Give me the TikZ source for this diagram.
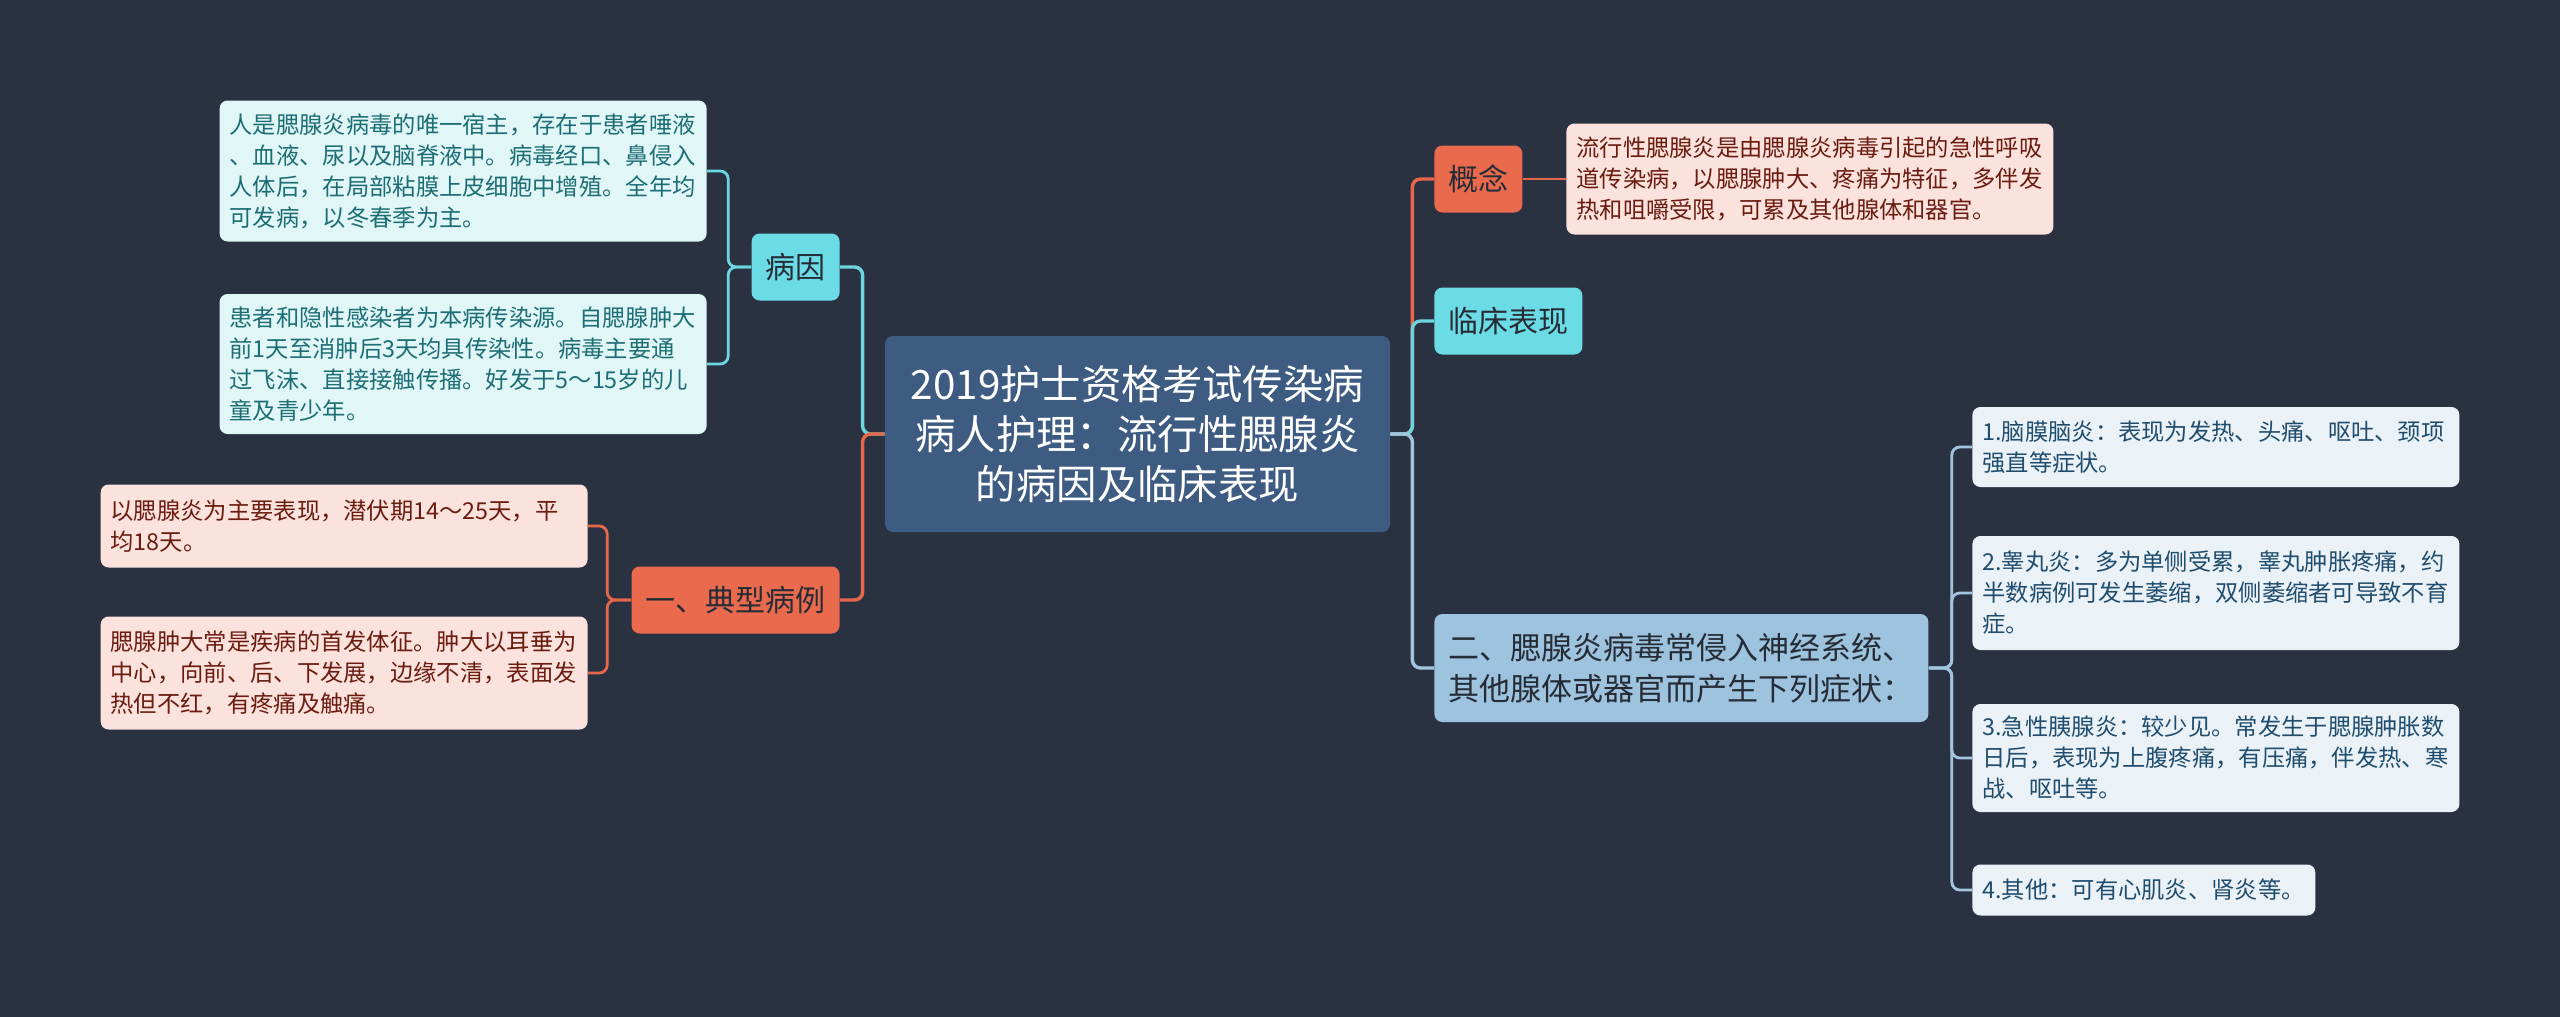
\documentclass[tikz,border=0pt]{standalone}
\usepackage{fontspec}
\setmainfont{Noto Sans CJK SC}

\definecolor{bg}{HTML}{2A3242}
\definecolor{rootfill}{HTML}{3E5B81}
\definecolor{cyanfill}{HTML}{6BDCE5}
\definecolor{orangefill}{HTML}{EA6A4E}
\definecolor{bluefill}{HTML}{9DC3DF}
\definecolor{cyanleaf}{HTML}{E0F6F7}
\definecolor{cyantext}{HTML}{1D6E74}
\definecolor{pinkleaf}{HTML}{FCE2DC}
\definecolor{pinktext}{HTML}{6A1C10}
\definecolor{blueleaf}{HTML}{EAF2F8}
\definecolor{bluetext}{HTML}{204D6D}
\definecolor{topictext}{HTML}{262C36}
\definecolor{cyanline}{HTML}{6BD6E0}
\definecolor{orangeline}{HTML}{E8674B}
\definecolor{blueline}{HTML}{A3C6E0}

\begin{document}
\begin{tikzpicture}[x=.5pt,y=-.5pt,
  root/.style={fill=rootfill,text=white,rounded corners=4pt,minimum width=252.5pt,minimum height=98pt,align=center,font=\fontsize{20.2}{25}\selectfont},
  topic/.style={rounded corners=4pt,minimum height=33.5pt,inner xsep=7pt,text=topictext,font=\fontsize{15}{18}\selectfont},
  leaf/.style={rounded corners=4pt,text width=233.5pt,inner xsep=5pt,inner ysep=2pt,align=left,font=\fontsize{11.65}{15.5}\selectfont},
  trunk/.style={line width=1.7pt,rounded corners=4pt},
  twig/.style={line width=1.4pt,rounded corners=4pt}]

\useasboundingbox (0,0) rectangle (2560,1017);
\fill[bg] (0,0) rectangle (2560,1017);

\node (root) at (1137.5,434) [root] {2019护士资格考试传染病\\病人护理：流行性腮腺炎\\的病因及临床表现};

\node (cause) at (840,267) [topic,anchor=east,fill=cyanfill] {病因};
\node (case) at (840,600) [topic,anchor=east,fill=orangefill] {一、典型病例};
\node (concept) at (1434,179) [topic,anchor=west,fill=orangefill] {概念};
\node (clinic) at (1434,321) [topic,anchor=west,fill=cyanfill] {临床表现};
\node (spread) at (1434,668) [topic,anchor=west,fill=bluefill,text width=233pt,align=left,minimum height=54pt,font=\fontsize{15.5}{20.5}\selectfont] {二、腮腺炎病毒常侵入神经系统、\\其他腺体或器官而产生下列症状：};

\node (causeA) at (707,171) [leaf,anchor=east,fill=cyanleaf,text=cyantext,minimum height=70.5pt] {人是腮腺炎病毒的唯一宿主，存在于患者唾液\\、血液、尿以及脑脊液中。病毒经口、鼻侵入\\人体后，在局部粘膜上皮细胞中增殖。全年均\\可发病，以冬春季为主。};
\node (causeB) at (707,364) [leaf,anchor=east,fill=cyanleaf,text=cyantext,minimum height=70pt] {患者和隐性感染者为本病传染源。自腮腺肿大\\前1天至消肿后3天均具传染性。病毒主要通\\过飞沫、直接接触传播。好发于5～15岁的儿\\童及青少年。};

\node (caseA) at (588,526) [leaf,anchor=east,fill=pinkleaf,text=pinktext,minimum height=41.5pt] {以腮腺炎为主要表现，潜伏期14～25天，平\\均18天。};
\node (caseB) at (588,673) [leaf,anchor=east,fill=pinkleaf,text=pinktext,minimum height=56.5pt] {腮腺肿大常是疾病的首发体征。肿大以耳垂为\\中心，向前、后、下发展，边缘不清，表面发\\热但不红，有疼痛及触痛。};

\node (conceptA) at (1566,179) [leaf,anchor=west,fill=pinkleaf,text=pinktext,minimum height=55.5pt] {流行性腮腺炎是由腮腺炎病毒引起的急性呼吸\\道传染病，以腮腺肿大、疼痛为特征，多伴发\\热和咀嚼受限，可累及其他腺体和器官。};

\node (spreadA) at (1972,447) [leaf,anchor=west,fill=blueleaf,text=bluetext,minimum height=40pt] {1.脑膜脑炎：表现为发热、头痛、呕吐、颈项\\强直等症状。};
\node (spreadB) at (1972,593) [leaf,anchor=west,fill=blueleaf,text=bluetext,minimum height=57pt] {2.睾丸炎：多为单侧受累，睾丸肿胀疼痛，约\\半数病例可发生萎缩，双侧萎缩者可导致不育\\症。};
\node (spreadC) at (1972,758) [leaf,anchor=west,fill=blueleaf,text=bluetext,minimum height=54pt] {3.急性胰腺炎：较少见。常发生于腮腺肿胀数\\日后，表现为上腹疼痛，有压痛，伴发热、寒\\战、呕吐等。};
\node (spreadD) at (1972,890) [leaf,anchor=west,fill=blueleaf,text=bluetext,text width=161.5pt,minimum height=25.5pt] {4.其他：可有心肌炎、肾炎等。};

\draw[trunk,cyanline] (root.west) -- ++(-22,0) |- (cause.east);
\draw[trunk,orangeline] (root.west) -- ++(-22,0) |- (case.east);
\draw[trunk,orangeline] (root.east) -- ++(22,0) |- (concept.west);
\draw[trunk,cyanline] (root.east) -- ++(22,0) |- (clinic.west);
\draw[trunk,blueline] (root.east) -- ++(22,0) |- (spread.west);

\draw[twig,cyanline] (cause.west) -- ++(-23,0) |- (causeA.east);
\draw[twig,cyanline] (cause.west) -- ++(-23,0) |- (causeB.east);
\draw[twig,orangeline] (case.west) -- ++(-24,0) |- (caseA.east);
\draw[twig,orangeline] (case.west) -- ++(-24,0) |- (caseB.east);
\draw[twig,orangeline] (concept.east) -- (conceptA.west);
\draw[twig,blueline] (spread.east) -- ++(23,0) |- (spreadA.west);
\draw[twig,blueline] (spread.east) -- ++(23,0) |- (spreadB.west);
\draw[twig,blueline] (spread.east) -- ++(23,0) |- (spreadC.west);
\draw[twig,blueline] (spread.east) -- ++(23,0) |- (spreadD.west);

\end{tikzpicture}
\end{document}
